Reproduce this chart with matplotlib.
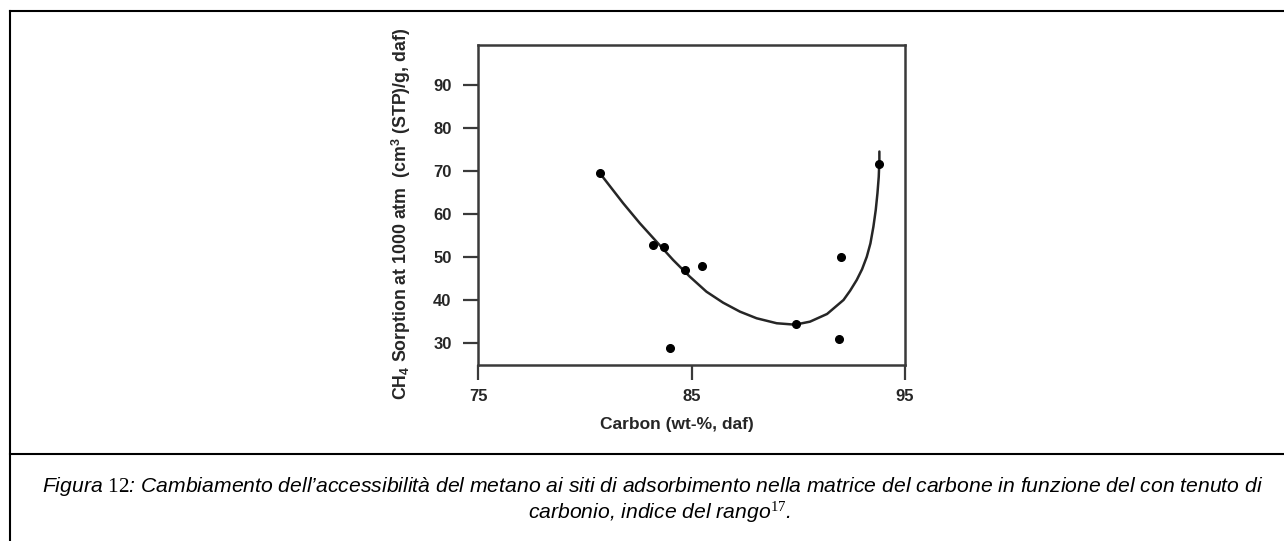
import matplotlib.pyplot as plt
from matplotlib.lines import Line2D

# measured sorption points
carbon = [80.7, 83.2, 83.7, 84.7, 85.5, 84.0, 89.9, 92.0, 91.9, 93.8]
sorption = [69.4, 52.8, 52.3, 46.9, 47.9, 28.7, 34.4, 50.0, 30.8, 71.5]

# trend curve
curve_x = [80.71, 81.80, 82.58, 83.36, 84.14, 84.92, 85.70, 86.48, 87.27,
           88.05, 88.99, 89.85, 90.55, 91.35, 92.12, 92.43, 92.74, 92.99,
           93.21, 93.38, 93.52, 93.63, 93.71, 93.77, 93.80, 93.80]
curve_y = [69.44, 62.46, 57.80, 53.52, 49.25, 45.37, 41.87, 39.31, 37.22,
           35.68, 34.52, 34.19, 34.89, 36.68, 39.94, 42.1, 44.6, 47.1,
           50.0, 53.1, 57.0, 60.9, 64.8, 68.6, 72.5, 74.5]

x_ticks = [75, 85, 95]
y_ticks = [30, 40, 50, 60, 70, 80, 90]

plt.rcParams['mathtext.fontset'] = 'custom'
plt.rcParams['mathtext.rm'] = 'Liberation Serif'
plt.rcParams['mathtext.it'] = 'Liberation Serif:italic'
plt.rcParams['mathtext.sf'] = 'Liberation Sans:bold'

W, H = 1284, 541
fig = plt.figure(figsize=(W / 100, H / 100), dpi=100)
fig.patch.set_facecolor('white')

ink = '#262626'
ax = fig.add_axes([478 / W, 1 - 365 / H, 427 / W, 320 / H])
ax.plot(curve_x, curve_y, color=ink, lw=1.8, solid_capstyle='round',
        solid_joinstyle='round')
ax.plot(carbon, sorption, 'o', color='black', ms=5.5)

ax.set_xlim(75, 95)
ax.set_ylim(24.8, 99.3)
ax.set_xticks(x_ticks)
ax.set_yticks(y_ticks)
for s in ax.spines.values():
    s.set_linewidth(1.8)
    s.set_color('#3a3a3a')
ax.tick_params(axis='both', direction='out', length=11, width=1.6,
               color='#3a3a3a', labelcolor=ink, labelsize=12)
ax.tick_params(axis='y', pad=8)
ax.tick_params(axis='x', pad=6)
for lab in ax.get_xticklabels() + ax.get_yticklabels():
    lab.set_fontfamily('Liberation Sans')
    lab.set_fontweight('bold')

fig.text(677 / W, 1 - 425 / H, 'Carbon (wt-%, daf)', ha='center', va='center',
         fontsize=12.5, fontweight='bold', family='Liberation Sans', color=ink)
fig.text(401 / W, 1 - 214 / H,
         r'CH$_\mathsf{4}$ Sorption at 1000 atm  (cm$^\mathsf{3}$ (STP)/g, daf)',
         rotation=90, ha='center', va='center', fontsize=12.8,
         fontweight='bold', family='Liberation Sans', color=ink)

# frame around the figure and separator above the caption
for xs, ys in [([9.5, W], [11, 11]), ([9.5, 9.5], [11, H]), ([9.5, W], [454, 454])]:
    fig.add_artist(Line2D([x / W for x in xs], [1 - y / H for y in ys],
                          color='black', lw=1.5, transform=fig.transFigure))

cap_style = dict(ha='center', va='center', fontsize=15.2, style='italic',
                 family='Liberation Sans', color='black')
fig.text(653 / W, 1 - 487 / H,
         'Figura $\\mathrm{12}$: Cambiamento dell\u2019accessibilità del metano ai siti di '
         'adsorbimento nella matrice del carbone in funzione del con tenuto di',
         **cap_style)
fig.text(659 / W, 1 - 512 / H, 'carbonio, indice del rango$^{\\mathit{17}}$.', **cap_style)

fig.savefig('out.png', dpi=100)
